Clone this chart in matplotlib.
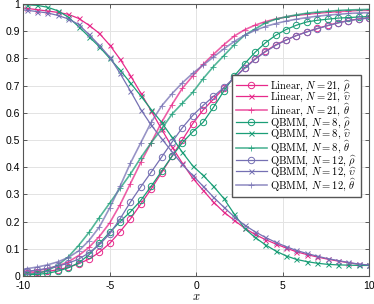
import matplotlib
matplotlib.use('Agg')
import matplotlib.pyplot as plt
from matplotlib.ticker import FuncFormatter

plt.rcParams['mathtext.fontset'] = 'cm'
plt.rcParams['axes.unicode_minus'] = False
plt.rcParams['font.family'] = 'Liberation Sans'

# sample positions (first point only carries the line, no marker)
x = [-10, -9.8, -9.2, -8.6, -8.0, -7.4, -6.8, -6.2, -5.6, -5.0, -4.4, -3.8,
     -3.2, -2.6, -2.0, -1.4, -0.8, -0.2, 0.4, 1.0, 1.6, 2.2, 2.8, 3.4, 4.0,
     4.6, 5.2, 5.8, 6.4, 7.0, 7.6, 8.2, 8.8, 9.4, 10.0]

# Linear, N = 21
lin_rho = [0.008, 0.01, 0.013, 0.017, 0.023, 0.032, 0.045, 0.062, 0.087, 0.12,
           0.163, 0.21, 0.265, 0.32, 0.38, 0.44, 0.50, 0.56, 0.61, 0.65,
           0.69, 0.728, 0.765, 0.798, 0.826, 0.85, 0.868, 0.884, 0.898, 0.91,
           0.921, 0.931, 0.939, 0.945, 0.95]
lin_ups = [0.985, 0.984, 0.979, 0.974, 0.969, 0.962, 0.947, 0.922, 0.892, 0.849,
           0.797, 0.737, 0.672, 0.607, 0.54, 0.475, 0.415, 0.36, 0.315, 0.272,
           0.235, 0.205, 0.176, 0.153, 0.134, 0.118, 0.103, 0.089, 0.079, 0.07,
           0.062, 0.055, 0.049, 0.043, 0.04]
lin_theta = [0.015, 0.016, 0.02, 0.027, 0.037, 0.052, 0.075, 0.105, 0.145, 0.195,
             0.262, 0.34, 0.418, 0.49, 0.565, 0.63, 0.69, 0.735, 0.778, 0.815,
             0.85, 0.882, 0.905, 0.922, 0.935, 0.945, 0.952, 0.958, 0.962, 0.966,
             0.969, 0.972, 0.974, 0.976, 0.977]

# QBMM, N = 8
q8_rho = [0.004, 0.005, 0.006, 0.01, 0.018, 0.03, 0.048, 0.078, 0.12, 0.16,
          0.2, 0.236, 0.278, 0.33, 0.385, 0.44, 0.49, 0.53, 0.565, 0.62,
          0.68, 0.735, 0.78, 0.822, 0.857, 0.885, 0.906, 0.922, 0.934, 0.94,
          0.944, 0.948, 0.95, 0.952, 0.954]
q8_ups = [0.997, 0.997, 0.995, 0.988, 0.975, 0.952, 0.917, 0.88, 0.843, 0.8,
          0.757, 0.71, 0.662, 0.612, 0.565, 0.51, 0.455, 0.405, 0.37, 0.33,
          0.285, 0.228, 0.175, 0.142, 0.115, 0.092, 0.074, 0.061, 0.053, 0.047,
          0.043, 0.041, 0.04, 0.039, 0.039]
q8_theta = [0.005, 0.006, 0.009, 0.02, 0.04, 0.07, 0.112, 0.16, 0.215, 0.268,
            0.322, 0.375, 0.435, 0.49, 0.54, 0.595, 0.635, 0.675, 0.725, 0.77,
            0.81, 0.85, 0.885, 0.908, 0.93, 0.944, 0.953, 0.96, 0.966, 0.97,
            0.973, 0.976, 0.978, 0.979, 0.98]

# QBMM, N = 12
q12_rho = [0.015, 0.017, 0.022, 0.028, 0.036, 0.047, 0.062, 0.085, 0.115, 0.155,
           0.21, 0.272, 0.328, 0.382, 0.437, 0.492, 0.545, 0.59, 0.627, 0.66,
           0.693, 0.728, 0.763, 0.796, 0.824, 0.848, 0.867, 0.884, 0.897, 0.909,
           0.92, 0.93, 0.938, 0.944, 0.948]
q12_ups = [0.978, 0.977, 0.972, 0.967, 0.958, 0.945, 0.925, 0.888, 0.848, 0.805,
           0.745, 0.68, 0.612, 0.555, 0.505, 0.457, 0.41, 0.37, 0.33, 0.29,
           0.253, 0.218, 0.187, 0.163, 0.142, 0.124, 0.108, 0.094, 0.083, 0.073,
           0.064, 0.057, 0.05, 0.044, 0.04]
q12_theta = [0.025, 0.027, 0.033, 0.041, 0.052, 0.068, 0.092, 0.13, 0.18, 0.25,
             0.33, 0.415, 0.49, 0.565, 0.625, 0.67, 0.71, 0.745, 0.775, 0.805,
             0.835, 0.862, 0.885, 0.903, 0.917, 0.928, 0.937, 0.944, 0.95, 0.955,
             0.959, 0.962, 0.965, 0.967, 0.968]

c_lin, c_q8, c_q12 = '#e7298a', '#1b9e77', '#7570b3'

fig = plt.figure(figsize=(3.74, 3.04), dpi=100)
ax = fig.add_axes([0.062, 0.092, 0.925, 0.895])

me = slice(1, None)
groups = [('Linear', 21, c_lin, lin_rho, lin_ups, lin_theta),
          ('QBMM', 8, c_q8, q8_rho, q8_ups, q8_theta),
          ('QBMM', 12, c_q12, q12_rho, q12_ups, q12_theta)]
for name, n, c, rho, ups, th in groups:
    ax.plot(x, rho, c=c, lw=0.9, marker='o', ms=4.6, mfc='none', mew=0.7,
            markevery=me, label=name + r', $N = %d$, $\widehat{\rho}$' % n)
    ax.plot(x, ups, c=c, lw=0.9, marker='x', ms=3.6, mew=0.7,
            markevery=me, label=name + r', $N = %d$, $\widehat{\upsilon}$' % n)
    ax.plot(x, th, c=c, lw=1.2, alpha=0.75, marker='+', ms=4.6, mew=0.7,
            markevery=me, label=name + r', $N = %d$, $\widehat{\theta}$' % n)

ax.set_xlim(-10, 10)
ax.set_ylim(0, 1)
ax.set_xticks([-10, -5, 0, 5, 10])
ax.set_yticks([i / 10 for i in range(11)])
ax.yaxis.set_major_formatter(FuncFormatter(lambda v, p: '%g' % round(v, 2)))
ax.grid(color='#e3e3e3', lw=0.7)
ax.set_axisbelow(True)
ax.tick_params(direction='in', length=3, width=0.6, labelsize=7.5,
               top=True, right=True, color='#444444')
ax.tick_params(axis='y', pad=2)
ax.tick_params(axis='x', pad=3.5)
for s in ax.spines.values():
    s.set_color('#555555')
    s.set_linewidth(0.8)
ax.set_xlabel('$x$', fontsize=9, labelpad=0)

ax.legend(loc='lower right', bbox_to_anchor=(0.976, 0.292),
          prop={'family': 'cmr10', 'size': 7.6}, handlelength=2.9,
          labelspacing=-0.22, borderpad=0.35, handletextpad=0.35,
          borderaxespad=0, fancybox=False, edgecolor='#555555',
          framealpha=1)

plt.savefig('out.png', dpi=100)
